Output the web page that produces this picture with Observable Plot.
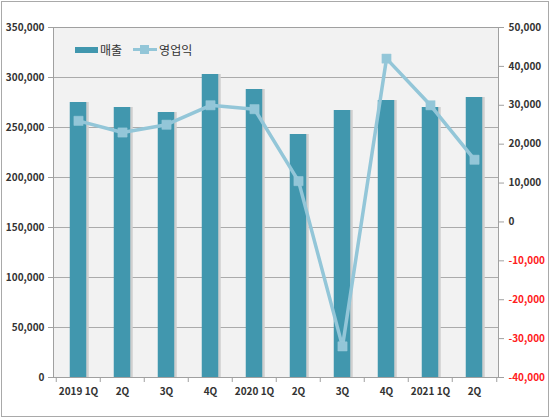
<!DOCTYPE html>
<html><head><meta charset="utf-8">
<script src="https://cdn.jsdelivr.net/npm/d3@7"></script>
<script src="https://cdn.jsdelivr.net/npm/@observablehq/plot@0.6"></script>
<style>
body{margin:0;background:#fff;}
#wrap{position:relative;width:550px;height:418px;overflow:hidden;}
#wrap svg{display:block;}
.border{position:absolute;left:1px;top:1px;width:546px;height:414px;border:1px solid #a9a9a9;pointer-events:none;}
.legend{position:absolute;left:75px;top:41px;font:12px "Noto Sans CJK KR",sans-serif;color:#333;display:flex;align-items:center;}
.legend .item{display:flex;align-items:center;margin-right:11px;}
.sw-bar{width:23px;height:6px;background:#4197ae;margin-right:2px;}
.sw-line{position:relative;width:24px;height:9px;margin-right:2px;}
.sw-line:before{content:"";position:absolute;left:0;right:0;top:3px;height:3px;background:#93c6d8;}
.sw-line:after{content:"";position:absolute;left:7px;top:0;width:9px;height:9px;background:#93c6d8;}
</style>
</head><body>
<div id="wrap"></div>
<script>
const periods = ["2019-1Q","2019-2Q","2019-3Q","2019-4Q","2020-1Q","2020-2Q","2020-3Q","2020-4Q","2021-1Q","2021-2Q"];
const periodLabels = ["2019 1Q","2Q","3Q","4Q","2020 1Q","2Q","3Q","4Q","2021 1Q","2Q"];
const sales = [275000,270000,265000,303000,288000,243000,267000,277000,270000,280000];
const opProfit = [26000,23000,25000,30000,29000,10500,-32000,42000,30000,16000];
const leftTicks = [0,50000,100000,150000,200000,250000,300000,350000];
const rightTicks = [-40000,-30000,-20000,-10000,0,10000,20000,30000,40000,50000];
const seriesNames = ["매출","영업익"];

const leftMax = 350000, rMin = -40000, rMax = 50000;
const toLeft = v => (v - rMin) / (rMax - rMin) * leftMax;
const fromLeft = y => Math.round((y / leftMax * (rMax - rMin) + rMin) / 1000) * 1000;
const rows = periods.map((p, i) => ({period: p, label: periodLabels[i], sales: sales[i], op: opProfit[i], opL: toLeft(opProfit[i])}));
const labelOf = Object.fromEntries(rows.map(d => [d.period, d.label]));
const fmt = d3.formatLocale({decimal: ".", thousands: ",", grouping: [3], currency: ["", ""], minus: "-"}).format(",");

const W = 550, H = 418, mL = 53, mR = 52;
const bw = (W - mL - mR) / periods.length;
const inset = (bw - 17) / 2;
const barColor = "#4197ae", lineColor = "#93c6d8";
const font = "'Noto Sans CJK KR', sans-serif";

const chart = Plot.plot({
  width: W, height: H,
  marginLeft: mL, marginRight: mR, marginTop: 27, marginBottom: 41,
  style: {fontFamily: font, background: "#fff"},
  x: {domain: periods, padding: 0, axis: null, label: null},
  y: {domain: [0, leftMax], axis: null, label: null},
  marks: [
    Plot.frame({fill: "#f2f2f2"}),
    Plot.gridY(leftTicks, {stroke: "#ababab", strokeOpacity: 1}),
    Plot.barY(rows, {x: "period", y: "sales", fill: "#cfcfcf", insetLeft: inset, insetRight: inset, dx: 2.5}),
    Plot.barY(rows, {x: "period", y: "sales", fill: barColor, insetLeft: inset, insetRight: inset}),
    Plot.frame({stroke: "#a0a0a0"}),
    Plot.axisY(leftTicks, {anchor: "left", label: null, tickSize: 5, tickPadding: 4, stroke: "#a0a0a0", fill: "#333", fontSize: 10, fontWeight: "bold", tickFormat: fmt}),
    Plot.axisY(rightTicks.filter(v => v >= 0).map(toLeft), {anchor: "right", label: null, tickSize: 5, tickPadding: 5, stroke: "#a0a0a0", fill: "#333", fontSize: 10, fontWeight: "bold", tickFormat: d => fmt(fromLeft(d))}),
    Plot.axisY(rightTicks.filter(v => v < 0).map(toLeft), {anchor: "right", label: null, tickSize: 5, tickPadding: 5, stroke: "#a0a0a0", fill: "#ff2020", fontSize: 10, fontWeight: "bold", tickFormat: d => fmt(fromLeft(d))}),
    Plot.ruleX(periods, {x: d => d, dx: -bw / 2, y1: 0, y2: -5000, stroke: "#a0a0a0"}),
    Plot.ruleX(periods.slice(-1), {x: d => d, dx: bw / 2, y1: 0, y2: -5000, stroke: "#a0a0a0"}),
    Plot.axisX(periods, {label: null, tickSize: 0, tickPadding: 10, fill: "#333", fontSize: 10, fontWeight: "bold", tickFormat: d => labelOf[d]}),
    Plot.line(rows, {x: "period", y: "opL", stroke: lineColor, strokeWidth: 3.5}),
    Plot.dot(rows, {x: "period", y: "opL", symbol: "square", r: 5.2, fill: lineColor, stroke: "#9ccbda", strokeWidth: 0.5})
  ]
});

const wrap = document.getElementById("wrap");
wrap.appendChild(chart);
const border = document.createElement("div");
border.className = "border";
wrap.appendChild(border);
const legend = document.createElement("div");
legend.className = "legend";
legend.innerHTML = `<div class="item"><div class="sw-bar"></div><span>${seriesNames[0]}</span></div><div class="item"><div class="sw-line"></div><span>${seriesNames[1]}</span></div>`;
wrap.appendChild(legend);
</script>
</body></html>
